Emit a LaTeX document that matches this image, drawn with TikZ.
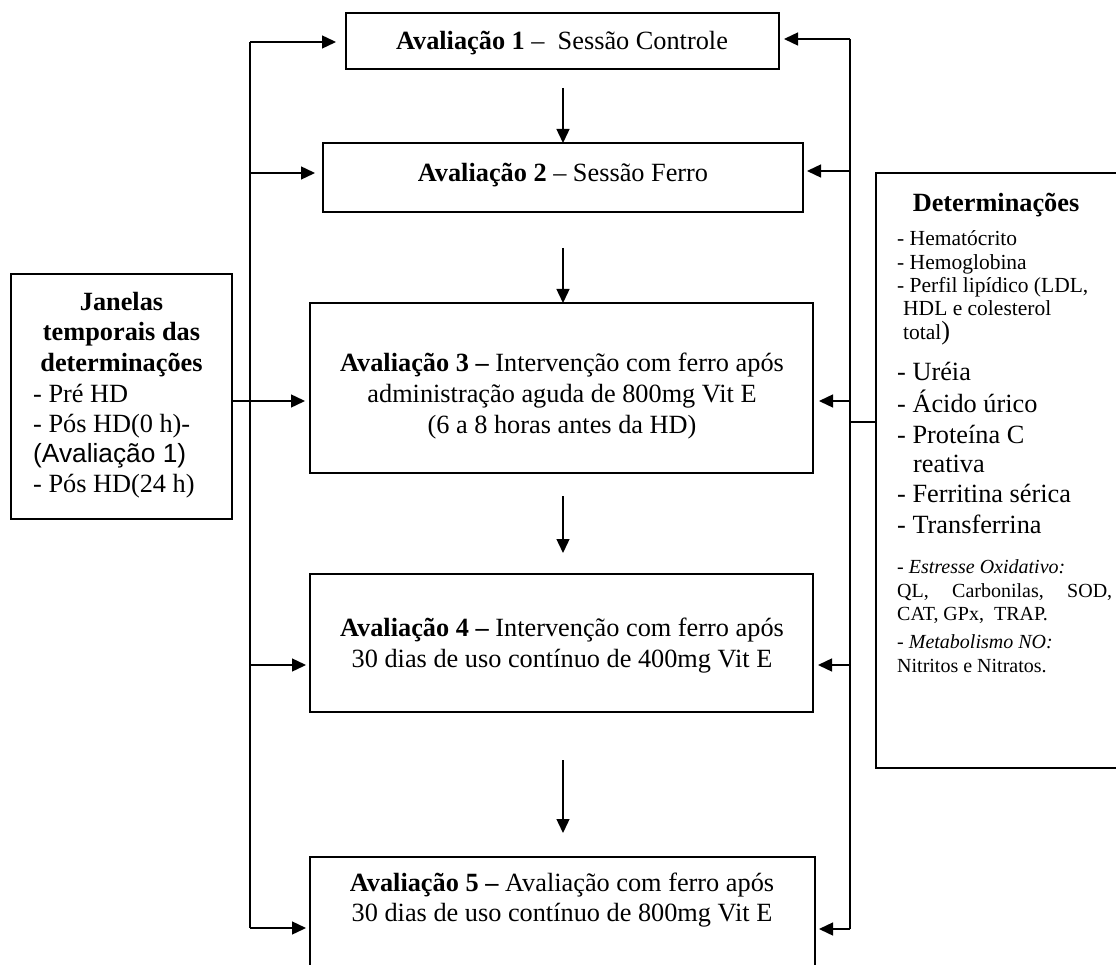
\documentclass[tikz,border=0pt]{standalone}
\usepackage{fontspec}
\setmainfont{Liberation Serif}
\newfontfamily\arialf{Liberation Sans}
\usetikzlibrary{arrows.meta,calc}
\newcommand\bigf{\fontsize{26.3}{30.5}\selectfont}
\newcommand\smallf{\fontsize{21.5}{23.5}\selectfont}
\newcommand\medf{\fontsize{20}{23.5}\selectfont}
\begin{document}
\begin{tikzpicture}[x=1pt,y=-1pt,
  box/.style={draw, line width=2pt, inner sep=0pt, outer sep=0pt},
  conn/.style={line width=1.4pt},
  arr/.style={conn, -{Triangle[length=14pt,width=13pt]}},
  txt/.style={inner sep=0pt, anchor=base, font=\bigf},
  bl/.style={inner sep=0pt, anchor=base west, font=\bigf},
  sl/.style={inner sep=0pt, anchor=base west, font=\smallf},
  ml/.style={inner sep=0pt, anchor=base west, font=\medf},
]
\useasboundingbox (0,0) rectangle (1116,965);
\begin{scope}
\clip (0,0) rectangle (1116,965);
% boxes
\node[box, minimum width=433pt, minimum height=56pt] (b1) at (562.5,41) {};
\node[box, minimum width=480pt, minimum height=69pt] (b2) at (563,177.5) {};
\node[box, minimum width=503pt, minimum height=170pt] (b3) at (561.5,388) {};
\node[box, minimum width=503pt, minimum height=138pt] (b4) at (561.5,643) {};
\node[box, minimum width=505pt, minimum height=128pt] (b5) at (562.5,921) {};
\node[box, minimum width=221pt, minimum height=245pt] (jan) at (121.5,396.5) {};
\node[box, minimum width=254pt, minimum height=595pt] (det) at (1003,470.5) {};

% box texts
\node[txt] (t1) at (562,50) {\textbf{Avaliação 1} –\ \ Sessão Controle};
\node[txt] (t2) at (563,182) {\textbf{Avaliação 2} – Sessão Ferro};
\node[txt] (t3a) at (562,371) {\textbf{Avaliação 3 –} Intervenção com ferro após};
\node[txt] (t3b) at (562,402) {administração aguda de 800mg Vit E};
\node[txt] (t3c) at (562,433) {(6 a 8 horas antes da HD)};
\node[txt] (t4a) at (562,636) {\textbf{Avaliação 4 –} Intervenção com ferro após};
\node[txt] (t4b) at (562,667) {30 dias de uso contínuo de 400mg Vit E};
\node[txt] (t5a) at (562,891) {\textbf{Avaliação 5 –} Avaliação com ferro após};
\node[txt] (t5b) at (562,921) {30 dias de uso contínuo de 800mg Vit E};

% Janelas
\node[txt] (j1) at (121.5,311) {\textbf{Janelas}};
\node[txt] (j2) at (121.5,341) {\textbf{temporais das}};
\node[txt] (j3) at (121.5,371) {\textbf{determinações}};
\node[bl] (j4) at (33,402) {- Pré HD};
\node[bl] (j5) at (33,432) {- Pós HD(0 h)-};
\node[bl] (j6) at (33,462) {\arialf (Avaliação 1)};
\node[bl] (j7) at (33,492) {- Pós HD(24 h)};

% Determinacoes
\node[txt] (d0) at (996,212) {\textbf{Determinações}};
\node[sl] (d1) at (897,246) {- Hematócrito};
\node[sl] (d2) at (897,270) {- Hemoglobina};
\node[sl] (d3) at (897,293) {- Perfil lipídico (LDL,};
\node[sl] (d4) at (903,316) {HDL e colesterol};
\node[sl] (d5) at (903,340) {total{\bigf )}};
\node[bl] (d6) at (897,381) {- Uréia};
\node[bl] (d7) at (897,412) {- Ácido úrico};
\node[bl] (d8) at (897,443) {- Proteína C};
\node[bl] (d9) at (913,472) {reativa};
\node[bl] (d10) at (897,502) {- Ferritina sérica};
\node[bl] (d11) at (897,533) {- Transferrina};
\node[ml] (d12) at (897,573) {- \textit{Estresse Oxidativo:}};
\node[ml] (d13) at (897,597) {\makebox[215pt][s]{QL,\hfill Carbonilas,\hfill SOD,}};
\node[ml] (d14) at (897,620) {CAT, GPx,\ \ TRAP.};
\node[ml] (d15) at (897,648) {- \textit{Metabolismo NO:}};
\node[ml] (d16) at (897,672) {Nitritos e Nitratos.};

% down arrows (all at x = 563)
\draw[arr] ($(b1.south)+(0.5,19)$) -- (b2.north);
\draw[arr] ($(b2.south)+(0,36)$) -- ($(b3.north)+(1.5,0)$);
\draw[arr] ($(b3.south)+(1.5,23)$) -- ($(b4.north)+(1.5,-21)$);
\draw[arr] ($(b4.south)+(1.5,48)$) -- ($(b5.north)+(0.5,-24)$);

% left bus
\coordinate (L1) at (250,42);
\coordinate (L2) at (250,173);
\coordinate (L4) at (250,665);
\coordinate (L5) at (250,928);
\coordinate (JA) at (232,401);
\draw[conn] (L1) -- (L5);
\draw[arr, shorten >=10pt] (L1) -- (L1 -| b1.west);
\draw[arr, shorten >=8pt] (L2) -- (L2 -| b2.west);
\draw[arr, shorten >=5pt] (JA) -- (JA -| b3.west);
\draw[arr, shorten >=4pt] (L4) -- (L4 -| b4.west);
\draw[arr, shorten >=4pt] (L5) -- (L5 -| b5.west);

% right bus
\coordinate (R1) at (850,39);
\coordinate (R2) at (850,171);
\coordinate (R3) at (850,401);
\coordinate (R4) at (850,665);
\coordinate (R5) at (850,929);
\coordinate (RD) at (850,422);
\draw[conn] (R1) -- (R5);
\draw[arr, shorten >=5pt] (R1) -- (R1 -| b1.east);
\draw[arr, shorten >=4pt] (R2) -- (R2 -| b2.east);
\draw[arr, shorten >=6pt] (R3) -- (R3 -| b3.east);
\draw[arr, shorten >=5pt] (R4) -- (R4 -| b4.east);
\draw[arr, shorten >=4pt] (R5) -- (R5 -| b5.east);
\draw[conn] (RD) -- (RD -| det.west);
\end{scope}
\end{tikzpicture}
\end{document}
